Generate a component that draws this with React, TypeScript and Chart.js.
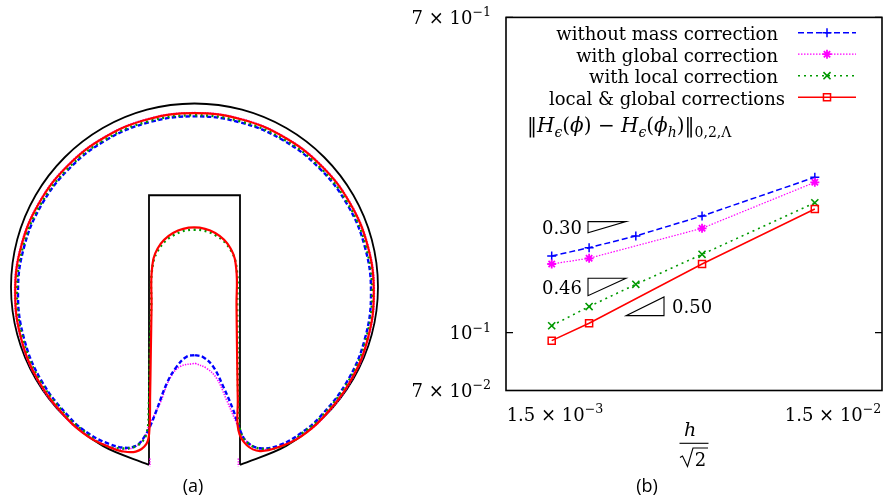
import React, { useEffect, useRef } from "react";
import { Chart, registerables } from "chart.js";
Chart.register(...registerables);

// ---------------- Panel (b): convergence study ----------------
const hOverSqrt2 = [1.46e-3, 1.99e-3, 2.93e-3, 5.07e-3, 1.29e-2];
const errWithout = [0.1605, 0.169, 0.1817, 0.2055, 0.261];
const errGlobal = [0.1528, 0.1583, null, 0.1905, 0.253];
const errLocal = [0.1044, 0.1175, 0.1348, 0.1622, 0.223];
const errLocalGlobal = [0.0952, 0.106, null, 0.1528, 0.2146];
const seriesLabels = [
  "without mass correction",
  "with global correction",
  "with local correction",
  "local & global corrections",
];
const xTickValues = [1.5e-3, 1.5e-2];
const xTickMantissa = ["1.5", "1.5"];
const xTickExponent = ["−3", "−2"];
const yTickValues = [0.07, 0.1, 0.7];
const yTickMantissa = ["7", "", "7"];
const yTickExponent = ["−2", "−1", "−1"];
const xRange = [1.0e-3, 2.25e-2];
const yRange = [0.07, 0.7];
const slopeLabels = ["0.30", "0.46", "0.50"];
const slopeTriangles = [
  [[1.972e-3, 0.1985], [2.702e-3, 0.1985], [1.972e-3, 0.1854]],
  [[1.972e-3, 0.1399], [2.702e-3, 0.1399], [1.972e-3, 0.1257]],
  [[2.702e-3, 0.1111], [3.70e-3, 0.1111], [3.70e-3, 0.1247]],
];

// ---------------- Panel (a): interface shapes (disk radius = 1) ----------------
const exactArc = [
  [0.248, -0.969], [0.5, -0.866], [0.707, -0.707], [0.866, -0.5], [0.966, -0.259],
  [1, 0], [0.966, 0.259], [0.866, 0.5], [0.707, 0.707], [0.5, 0.866], [0.259, 0.966],
  [0, 1], [-0.259, 0.966], [-0.5, 0.866], [-0.707, 0.707], [-0.866, 0.5], [-0.966, 0.259],
  [-1, 0], [-0.966, -0.259], [-0.866, -0.5], [-0.707, -0.707], [-0.5, -0.866], [-0.248, -0.969],
];
const exactSlot = [[-0.248, -0.969], [-0.248, 0.5], [0.248, 0.5], [0.248, -0.969]];
const curveLocalGlobal = [
  [0.232, -0.35], [0.236, -0.62], [0.239, -0.779], [0.284, -0.861], [0.357, -0.894],
  [0.466, -0.87], [0.58, -0.815], [0.691, -0.721], [0.846, -0.519], [0.944, -0.283],
  [0.977, -0.03], [0.944, 0.223], [0.846, 0.459], [0.691, 0.661], [0.489, 0.816],
  [0.253, 0.914], [0, 0.947], [-0.253, 0.914], [-0.489, 0.816], [-0.691, 0.661],
  [-0.846, 0.459], [-0.944, 0.223], [-0.977, -0.03], [-0.944, -0.283], [-0.846, -0.519],
  [-0.691, -0.721], [-0.58, -0.815], [-0.466, -0.872], [-0.4, -0.894], [-0.32, -0.897],
  [-0.262, -0.855], [-0.246, -0.78], [-0.242, -0.6], [-0.238, -0.35], [-0.234, -0.1],
  [-0.232, 0.095], [-0.201, 0.21], [-0.117, 0.294], [-0.002, 0.325], [0.113, 0.294],
  [0.197, 0.21], [0.228, 0.095], [0.229, -0.1], [0.232, -0.35],
];
const curveLocal = [
  [0.235, -0.35], [0.239, -0.62], [0.25, -0.785], [0.3, -0.858], [0.393, -0.883],
  [0.502, -0.858], [0.59, -0.795], [0.684, -0.716], [0.838, -0.516], [0.935, -0.283],
  [0.968, -0.032], [0.935, 0.219], [0.838, 0.452], [0.684, 0.652], [0.484, 0.806],
  [0.251, 0.903], [0, 0.936], [-0.251, 0.903], [-0.484, 0.806], [-0.684, 0.652],
  [-0.838, 0.452], [-0.935, 0.219], [-0.968, -0.032], [-0.935, -0.283], [-0.838, -0.516],
  [-0.684, -0.716], [-0.59, -0.795], [-0.502, -0.858], [-0.4, -0.88], [-0.31, -0.862],
  [-0.262, -0.8], [-0.249, -0.65], [-0.244, -0.35], [-0.236, -0.1], [-0.233, 0.08],
  [-0.201, 0.196], [-0.116, 0.281], [0, 0.312], [0.116, 0.281], [0.201, 0.196],
  [0.232, 0.08], [0.233, -0.1], [0.235, -0.35],
];
const curveWithout = [
  [0.003, -0.371], [0.048, -0.383], [0.102, -0.434], [0.157, -0.543], [0.211, -0.67],
  [0.248, -0.779], [0.284, -0.843], [0.357, -0.879], [0.466, -0.861], [0.575, -0.8],
  [0.68, -0.712], [0.833, -0.513], [0.929, -0.281], [0.962, -0.032], [0.929, 0.217],
  [0.833, 0.449], [0.68, 0.648], [0.481, 0.801], [0.249, 0.897], [0, 0.93],
  [-0.249, 0.897], [-0.481, 0.801], [-0.68, 0.648], [-0.833, 0.449], [-0.929, 0.217],
  [-0.962, -0.032], [-0.929, -0.281], [-0.833, -0.513], [-0.68, -0.712], [-0.575, -0.8],
  [-0.466, -0.855], [-0.38, -0.876], [-0.32, -0.866], [-0.279, -0.825], [-0.243, -0.761],
  [-0.206, -0.67], [-0.151, -0.525], [-0.097, -0.434], [-0.043, -0.38], [0.003, -0.371],
];
const curveGlobal = [
  [0.003, -0.416], [0.066, -0.443], [0.121, -0.498], [0.175, -0.616], [0.23, -0.743],
  [0.265, -0.815], [0.31, -0.862], [0.38, -0.886], [0.466, -0.868], [0.58, -0.81],
  [0.693, -0.723], [0.849, -0.52], [0.947, -0.284], [0.98, -0.03], [0.947, 0.224],
  [0.849, 0.46], [0.693, 0.663], [0.49, 0.819], [0.254, 0.917], [0, 0.95],
  [-0.254, 0.917], [-0.49, 0.819], [-0.693, 0.663], [-0.849, 0.46], [-0.947, 0.224],
  [-0.98, -0.03], [-0.947, -0.284], [-0.849, -0.52], [-0.693, -0.723], [-0.58, -0.81],
  [-0.466, -0.868], [-0.38, -0.886], [-0.31, -0.862], [-0.27, -0.815], [-0.25, -0.76],
  [-0.188, -0.634], [-0.134, -0.498], [-0.079, -0.434], [0.003, -0.416],
];
const globalBitLeft = [[-0.243, -0.935], [-0.243, -0.978]];
const globalBitRight = [[0.239, -0.935], [0.239, -0.978]];
const panelAX = [-1.06, 1.12];
const panelAY = [-1.1608, 1.564];

// ---------------- styling ----------------
const SERIF = '"DejaVu Serif", "Liberation Serif", serif';
const SANS = '"Open Sans", "DejaVu Sans", sans-serif';
const BLUE = "#0000ff";
const MAGENTA = "#ff00ff";
const GREEN = "#009900";
const RED = "#ff0000";

const seriesValues = [errWithout, errGlobal, errLocal, errLocalGlobal];
const seriesStyles = [
  { color: BLUE, dash: [6, 3], width: 1.5, point: "cross", radius: 4.5, pw: 1.5 },
  { color: MAGENTA, dash: [1.5, 1.5], width: 1.2, point: "star", radius: 4.5, pw: 1.8 },
  { color: GREEN, dash: [2, 4], width: 1.6, point: "crossRot", radius: 5, pw: 1.6 },
  { color: RED, dash: [], width: 1.5, point: "rect", radius: 5, pw: 1.5 },
];

type Run = { t: string; it?: boolean; sub?: boolean; sup?: boolean };

function runFont(r: Run, size: number) {
  const s = r.sub || r.sup ? size * 0.7 : size;
  return `${r.it ? "italic " : ""}${s}px ${SERIF}`;
}
function runsWidth(ctx: CanvasRenderingContext2D, runs: Run[], size: number) {
  let w = 0;
  for (const r of runs) {
    ctx.font = runFont(r, size);
    w += ctx.measureText(r.t).width;
  }
  return w;
}
function drawRuns(
  ctx: CanvasRenderingContext2D,
  runs: Run[],
  x: number,
  y: number,
  size: number,
  align: "left" | "right" | "center"
) {
  const w = runsWidth(ctx, runs, size);
  let cx = align === "left" ? x : align === "right" ? x - w : x - w / 2;
  ctx.textAlign = "left";
  ctx.textBaseline = "alphabetic";
  for (const r of runs) {
    ctx.font = runFont(r, size);
    const dy = r.sup ? -0.42 * size : r.sub ? 0.25 * size : 0;
    ctx.fillText(r.t, cx, y + dy);
    cx += ctx.measureText(r.t).width;
  }
}

function drawMarker(ctx: CanvasRenderingContext2D, kind: string, x: number, y: number, r: number) {
  ctx.beginPath();
  const d = r * Math.SQRT1_2;
  if (kind === "cross" || kind === "star") {
    ctx.moveTo(x - r, y);
    ctx.lineTo(x + r, y);
    ctx.moveTo(x, y - r);
    ctx.lineTo(x, y + r);
  }
  if (kind === "crossRot" || kind === "star") {
    ctx.moveTo(x - d, y - d);
    ctx.lineTo(x + d, y + d);
    ctx.moveTo(x - d, y + d);
    ctx.lineTo(x + d, y - d);
  }
  if (kind === "rect") {
    ctx.rect(x - d, y - d, 2 * d, 2 * d);
  }
  ctx.stroke();
}

const toXY = (arr: number[][]) => arr.map(([x, y]) => ({ x, y }));

const panelBPlugin = {
  id: "panelB",
  afterDraw(chart: any) {
    const { ctx, chartArea: a, scales } = chart;
    const xs = scales.x;
    const ys = scales.y;
    ctx.save();
    ctx.fillStyle = "#000";
    ctx.strokeStyle = "#000";
    ctx.setLineDash([]);

    // frame
    ctx.lineWidth = 1.6;
    ctx.strokeRect(a.left, a.top, a.right - a.left, a.bottom - a.top);

    // y ticks + labels
    yTickValues.forEach((v, i) => {
      const py = ys.getPixelForValue(v);
      ctx.lineWidth = 1.2;
      ctx.beginPath();
      ctx.moveTo(a.left, py);
      ctx.lineTo(a.left + 7, py);
      ctx.moveTo(a.right, py);
      ctx.lineTo(a.right - 7, py);
      ctx.stroke();
      const runs: Run[] = [];
      if (yTickMantissa[i]) runs.push({ t: yTickMantissa[i] + " × 10" });
      else runs.push({ t: "10" });
      runs.push({ t: yTickExponent[i], sup: true });
      drawRuns(ctx, runs, a.left - 15, py + 6.5, 18, "right");
    });

    // x tick labels
    xTickValues.forEach((v, i) => {
      const px = xs.getPixelForValue(v);
      drawRuns(
        ctx,
        [{ t: xTickMantissa[i] + " × 10" }, { t: xTickExponent[i], sup: true }],
        px,
        a.bottom + 30,
        18,
        "center"
      );
    });

    // x axis title: h / sqrt(2)
    const cx = (a.left + a.right) / 2;
    drawRuns(ctx, [{ t: "h", it: true }], cx - 4, a.bottom + 45.5, 19, "center");
    ctx.lineWidth = 1.1;
    ctx.beginPath();
    ctx.moveTo(cx - 14.5, a.bottom + 52.8);
    ctx.lineTo(cx + 14.5, a.bottom + 52.8);
    ctx.stroke();
    ctx.lineWidth = 1.1;
    ctx.beginPath();
    ctx.moveTo(cx - 14, a.bottom + 67);
    ctx.lineTo(cx - 11.5, a.bottom + 65.5);
    ctx.lineTo(cx - 6.5, a.bottom + 76);
    ctx.lineTo(cx - 1, a.bottom + 57.5);
    ctx.lineTo(cx + 14, a.bottom + 57.5);
    ctx.stroke();
    drawRuns(ctx, [{ t: "2" }], cx + 6.5, a.bottom + 75.5, 18, "center");

    // slope triangles
    slopeTriangles.forEach((tri, i) => {
      const p = tri.map(([x, y]) => [xs.getPixelForValue(x), ys.getPixelForValue(y)]);
      ctx.lineWidth = 1.1;
      ctx.beginPath();
      ctx.moveTo(p[0][0], p[0][1]);
      ctx.lineTo(p[1][0], p[1][1]);
      ctx.lineTo(p[2][0], p[2][1]);
      ctx.closePath();
      ctx.stroke();
      const minX = Math.min(...p.map((q) => q[0]));
      const maxX = Math.max(...p.map((q) => q[0]));
      const cy = (Math.min(...p.map((q) => q[1])) + Math.max(...p.map((q) => q[1]))) / 2;
      if (i < 2) drawRuns(ctx, [{ t: slopeLabels[i] }], minX - 6, cy + 7, 18, "right");
      else drawRuns(ctx, [{ t: slopeLabels[i] }], maxX + 8, cy + 7, 18, "left");
    });

    // legend
    seriesLabels.forEach((lab, i) => {
      const st = seriesStyles[i];
      const ry = a.top + 15.3 + 21.5 * i;
      ctx.fillStyle = "#000";
      drawRuns(ctx, [{ t: lab }], a.right - (i === 3 ? 97 : 104), ry + 7.5, 18, "right");
      ctx.strokeStyle = st.color;
      ctx.lineWidth = st.width;
      ctx.setLineDash(st.dash);
      ctx.beginPath();
      ctx.moveTo(a.right - 84, ry);
      ctx.lineTo(a.right - 26, ry);
      ctx.stroke();
      ctx.setLineDash([]);
      ctx.lineWidth = st.pw;
      drawMarker(ctx, st.point, a.right - 55, ry, st.radius);
    });

    // norm label
    ctx.fillStyle = "#000";
    drawRuns(
      ctx,
      [
        { t: "‖" },
        { t: "H", it: true },
        { t: "ϵ", it: true, sub: true },
        { t: "(" },
        { t: "ϕ", it: true },
        { t: ") − " },
        { t: "H", it: true },
        { t: "ϵ", it: true, sub: true },
        { t: "(" },
        { t: "ϕ", it: true },
        { t: "h", it: true, sub: true },
        { t: ")‖" },
        { t: "0,2,Λ", sub: true },
      ],
      a.left + 21,
      a.top + 115,
      20,
      "left"
    );

    // subfigure caption
    ctx.font = `18px ${SANS}`;
    ctx.textAlign = "center";
    ctx.fillText("(b)", 247, 492);
    ctx.restore();
  },
};

const panelAPlugin = {
  id: "panelA",
  afterDraw(chart: any) {
    const { ctx } = chart;
    ctx.save();
    ctx.fillStyle = "#000";
    ctx.font = `18px ${SANS}`;
    ctx.textAlign = "center";
    ctx.textBaseline = "alphabetic";
    ctx.fillText("(a)", 193, 492);
    ctx.restore();
  },
};

export default function App() {
  const leftRef = useRef<HTMLCanvasElement>(null);
  const rightRef = useRef<HTMLCanvasElement>(null);

  useEffect(() => {
    const line = (data: number[][], color: string, width: number, dash: number[], tension: number) => ({
      data: toXY(data),
      showLine: true,
      borderColor: color,
      borderWidth: width,
      borderDash: dash,
      pointRadius: 0,
      tension,
      fill: false,
    });
    const left = new Chart(leftRef.current!, {
      type: "scatter",
      data: {
        datasets: [
          line(curveLocalGlobal, RED, 2.2, [], 0.4),
          line(curveLocal, GREEN, 2.4, [2, 3.5], 0.4),
          line(curveWithout, BLUE, 2.4, [4.5, 2.5], 0.4),
          line(curveGlobal, MAGENTA, 1.6, [1.3, 1.3], 0.4),
          line(globalBitLeft, MAGENTA, 1.6, [1.3, 1.3], 0),
          line(globalBitRight, MAGENTA, 1.6, [1.3, 1.3], 0),
          line(exactArc, "#000", 1.8, [], 0.35),
          line(exactSlot, "#000", 1.8, [], 0),
        ] as any,
      },
      options: {
        animation: false,
        responsive: false,
        events: [],
        layout: { padding: 0, autoPadding: false },
        plugins: { legend: { display: false }, tooltip: { enabled: false } },
        scales: {
          x: { type: "linear", min: panelAX[0], max: panelAX[1], display: false },
          y: { type: "linear", min: panelAY[0], max: panelAY[1], display: false },
        },
      },
      plugins: [panelAPlugin],
    });

    const datasets = seriesValues
      .map((vals, i) => {
        const st = seriesStyles[i];
        const pts = hOverSqrt2
          .map((x, k) => ({ x, y: vals[k] }))
          .filter((p) => p.y !== null && p.y !== undefined);
        return {
          label: seriesLabels[i],
          data: pts,
          showLine: true,
          borderColor: st.color,
          borderWidth: st.width,
          borderDash: st.dash,
          tension: 0,
          pointStyle: st.point,
          pointRadius: st.radius,
          pointBorderWidth: st.pw,
          pointBorderColor: st.color,
          pointBackgroundColor: "rgba(255,255,255,0)",
        };
      })
      .reverse();

    const right = new Chart(rightRef.current!, {
      type: "scatter",
      data: { datasets: datasets as any },
      options: {
        animation: false,
        responsive: false,
        events: [],
        layout: { padding: { left: 106, right: 1, top: 17.4, bottom: 109.5 }, autoPadding: false },
        plugins: { legend: { display: false }, tooltip: { enabled: false } },
        scales: {
          x: { type: "logarithmic", min: xRange[0], max: xRange[1], display: false },
          y: { type: "logarithmic", min: yRange[0], max: yRange[1], display: false },
        },
      },
      plugins: [panelBPlugin],
    });

    return () => {
      left.destroy();
      right.destroy();
    };
  }, []);

  return (
    <div style={{ position: "absolute", left: 0, top: 0, width: 883, height: 500, background: "#fff" }}>
      <canvas
        ref={leftRef}
        width={400}
        height={500}
        style={{ position: "absolute", left: 0, top: 0, width: 400, height: 500 }}
      />
      <canvas
        ref={rightRef}
        width={483}
        height={500}
        style={{ position: "absolute", left: 400, top: 0, width: 483, height: 500 }}
      />
    </div>
  );
}
